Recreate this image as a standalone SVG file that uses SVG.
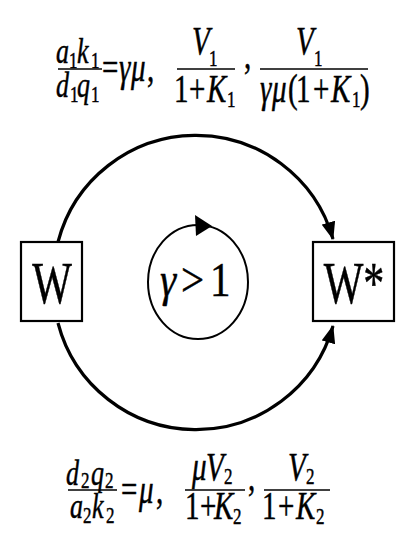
<svg xmlns="http://www.w3.org/2000/svg" width="415" height="554" viewBox="0 0 415 554">
<defs>
<style>
text{font-family:"Liberation Serif","Times New Roman",serif;fill:#000;stroke:#000;stroke-width:0.35}
.m{font-size:29px}
.sm{font-size:26px}
.i{font-style:italic}
.s{font-size:17px;font-style:normal}
.fl{stroke:#000;stroke-width:1.5}
.box{fill:#fff;stroke:#000;stroke-width:2.2}
.arc{fill:none;stroke:#000;stroke-width:3.2}
</style>
<marker id="ah" viewBox="0 0 18 14" refX="17" refY="7" markerWidth="18" markerHeight="14" markerUnits="userSpaceOnUse" orient="auto">
<path d="M0,0 L18,7 L0,14 z" fill="#000"/>
</marker>
</defs>
<rect width="415" height="554" fill="#fff"/>

<g id="connectors">
<path class="arc" d="M58,242 A142.5,142.5 0 0 1 333,239" marker-end="url(#ah)"/>
<path class="arc" d="M58,323 A142.5,142.5 0 0 0 333,326" marker-end="url(#ah)"/>
</g>

<g id="node-W">
<rect class="box" x="21" y="242" width="61" height="79"/>
<text transform="translate(52,303) scale(1,1.4)" font-size="42" text-anchor="middle">W</text>
</g>

<g id="node-Wstar">
<rect class="box" x="313" y="242" width="81" height="79"/>
<text transform="translate(354,303) scale(1,1.4)" font-size="42" text-anchor="middle">W*</text>
</g>

<g id="node-cycle">
<ellipse cx="198" cy="282" rx="50" ry="57" fill="none" stroke="#000" stroke-width="2"/>
<polygon points="195,215 212,226 196,236" fill="#000"/>
<text transform="translate(0,296) scale(1,1.2)" font-size="41"><tspan class="i" x="160">γ</tspan><tspan x="181">&gt;</tspan><tspan x="210">1</tspan></text>
</g>

<g id="formula-top">
<text class="sm i" transform="translate(0,63) scale(1,1.35)"><tspan x="56">a</tspan><tspan class="s" x="69" y="3.7">1</tspan><tspan x="77" y="0">k</tspan><tspan class="s" x="91" y="3.7">1</tspan></text>
<line class="fl" x1="58" y1="69" x2="102" y2="69"/>
<text class="sm i" transform="translate(0,97) scale(1,1.35)"><tspan x="56">d</tspan><tspan class="s" x="70" y="3.7">1</tspan><tspan x="77" y="0">q</tspan><tspan class="s" x="91" y="3.7">1</tspan></text>
<text class="m" transform="translate(0,81) scale(1,1.35)"><tspan x="102">=</tspan><tspan class="i" x="119">γ</tspan><tspan class="i" x="131">μ</tspan><tspan x="147">,</tspan></text>
<text class="m i" transform="translate(0,54) scale(1,1.35)"><tspan x="192">V</tspan><tspan class="s" x="209" y="8.9">1</tspan></text>
<line class="fl" x1="177" y1="69" x2="235" y2="69"/>
<text class="m" transform="translate(0,102) scale(1,1.35)"><tspan x="174">1</tspan><tspan x="189">+</tspan><tspan class="i" x="207">K</tspan><tspan class="s" x="227" y="3.7">1</tspan></text>
<text class="m" transform="translate(244,68) scale(1,1.35)">,</text>
<text class="m i" transform="translate(0,54) scale(1,1.35)"><tspan x="296">V</tspan><tspan class="s" x="314" y="8.9">1</tspan></text>
<line class="fl" x1="260" y1="69" x2="368" y2="69"/>
<text class="m" transform="translate(0,102) scale(1,1.35)"><tspan class="i" x="260">γ</tspan><tspan class="i" x="272">μ</tspan><tspan x="288">(</tspan><tspan x="296">1</tspan><tspan x="313">+</tspan><tspan class="i" x="331">K</tspan><tspan class="s" x="352" y="3.7">1</tspan><tspan x="360" y="0">)</tspan></text>
</g>

<g id="formula-bottom">
<text class="sm i" transform="translate(0,485) scale(1,1.35)"><tspan x="66">d</tspan><tspan class="s" x="81" y="2.5">2</tspan><tspan x="91" y="0">q</tspan><tspan class="s" x="105" y="2.5">2</tspan></text>
<line class="fl" x1="68" y1="490" x2="117" y2="490"/>
<text class="sm i" transform="translate(0,518) scale(1,1.35)"><tspan x="70">a</tspan><tspan class="s" x="83" y="3.7">2</tspan><tspan x="92" y="0">k</tspan><tspan class="s" x="106" y="3.7">2</tspan></text>
<text class="m" transform="translate(0,503) scale(1,1.35)"><tspan x="121">=</tspan><tspan class="i" x="139">μ</tspan><tspan x="156">,</tspan></text>
<text class="m i" transform="translate(0,480) scale(1,1.35)"><tspan x="192">μ</tspan><tspan x="206">V</tspan><tspan class="s" x="224" y="3">2</tspan></text>
<line class="fl" x1="185" y1="490" x2="245" y2="490"/>
<text class="m" transform="translate(0,519) scale(1,1.35)"><tspan x="185">1</tspan><tspan x="200">+</tspan><tspan class="i" x="214">K</tspan><tspan class="s" x="233" y="3.7">2</tspan></text>
<text class="m" transform="translate(248,490) scale(1,1.35)">,</text>
<text class="m i" transform="translate(0,480) scale(1,1.35)"><tspan x="288">V</tspan><tspan class="s" x="306" y="3">2</tspan></text>
<line class="fl" x1="264" y1="490" x2="330" y2="490"/>
<text class="m" transform="translate(0,519) scale(1,1.35)"><tspan x="262">1</tspan><tspan x="278">+</tspan><tspan class="i" x="296">K</tspan><tspan class="s" x="316" y="3.7">2</tspan></text>
</g>
</svg>
